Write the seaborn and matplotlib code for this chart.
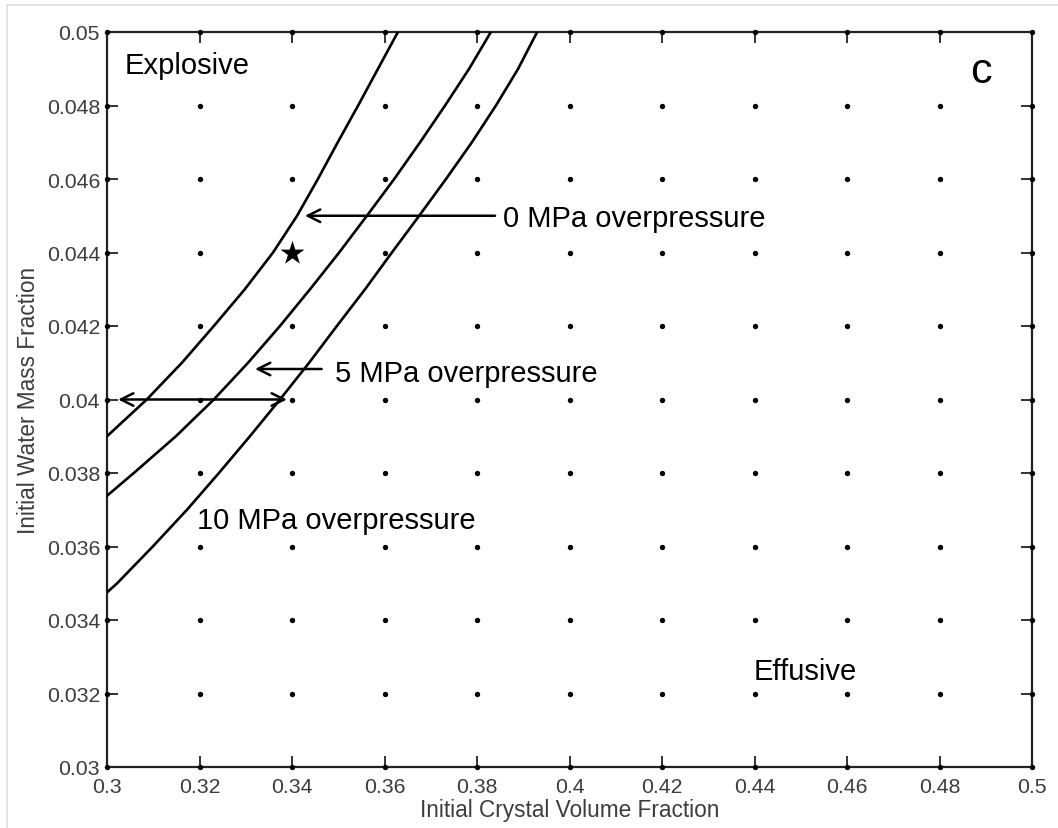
import itertools
import numpy as np
import pandas as pd
import matplotlib
matplotlib.use("Agg")
import matplotlib.pyplot as plt
import seaborn as sns
from matplotlib.lines import Line2D

# ---------------- data ----------------
x_ticks = [0.30, 0.32, 0.34, 0.36, 0.38, 0.40, 0.42, 0.44, 0.46, 0.48, 0.50]
x_ticklabels = ["0.3", "0.32", "0.34", "0.36", "0.38", "0.4", "0.42", "0.44", "0.46", "0.48", "0.5"]
y_ticks = [0.030, 0.032, 0.034, 0.036, 0.038, 0.040, 0.042, 0.044, 0.046, 0.048, 0.050]
y_ticklabels = ["0.03", "0.032", "0.034", "0.036", "0.038", "0.04", "0.042", "0.044", "0.046", "0.048", "0.05"]

# boundary curves (x = crystal fraction, y = water fraction)
curve0_x = [0.3000, 0.3086, 0.3162, 0.3231, 0.3298, 0.3359, 0.3411, 0.3456, 0.3499, 0.3543, 0.3586, 0.3629]
curve0_y = [0.0390, 0.0400, 0.0410, 0.0420, 0.0430, 0.0440, 0.0450, 0.0460, 0.0470, 0.0480, 0.0490, 0.0500]

curve5_x = [0.3000, 0.3058, 0.3149, 0.3231, 0.3305, 0.3374, 0.3439, 0.3502, 0.3562, 0.3621, 0.3677, 0.3731, 0.3783, 0.3830]
curve5_y = [0.03738, 0.0380, 0.0390, 0.0400, 0.0410, 0.0420, 0.0430, 0.0440, 0.0450, 0.0460, 0.0470, 0.0480, 0.0490, 0.0500]

curve10_x = [0.3000, 0.3022, 0.3099, 0.3173, 0.3242, 0.3309, 0.3374, 0.3437, 0.3497, 0.3558, 0.3616, 0.3675, 0.3733, 0.3789, 0.3841, 0.3889, 0.3930]
curve10_y = [0.03475, 0.0350, 0.0360, 0.0370, 0.0380, 0.0390, 0.0400, 0.0410, 0.0420, 0.0430, 0.0440, 0.0450, 0.0460, 0.0470, 0.0480, 0.0490, 0.0500]

star_x = [0.34]
star_y = [0.044]

# ---------------- style ----------------
sns.set_style("ticks")
plt.rcParams["font.family"] = ["Liberation Sans", "DejaVu Sans"]

W, H = 1058, 829
fig = plt.figure(figsize=(W / 100, H / 100), dpi=100)
ax = fig.add_axes([107 / W, 1 - 768 / H, (1032 - 107) / W, (768 - 33) / H])

# simulation grid points
grid = pd.DataFrame(list(itertools.product(x_ticks, y_ticks)), columns=["crystal", "water"])
sns.scatterplot(data=grid, x="crystal", y="water", ax=ax, color="black", s=15,
                linewidth=0, clip_on=False, zorder=5, legend=False)

# boundary curves
for cx, cy in [(curve0_x, curve0_y), (curve5_x, curve5_y), (curve10_x, curve10_y)]:
    sns.lineplot(x=cx, y=cy, ax=ax, color="black", linewidth=1.9,
                 estimator=None, sort=False, zorder=4)

# star
sns.scatterplot(x=star_x, y=star_y, ax=ax, marker="*", s=330, color="black",
                linewidth=0, zorder=6, legend=False)

ax.set_xlim(0.3, 0.5)
ax.set_ylim(0.03, 0.05)
ax.set_xticks(x_ticks)
ax.set_xticklabels(x_ticklabels)
ax.set_yticks(y_ticks)
ax.set_yticklabels(y_ticklabels)
ax.tick_params(direction="in", length=8, width=1.3, top=True, right=True,
               labelsize=15.3, labelcolor="#3d3d3d", color="#222222")
ax.tick_params(axis="x", pad=7)
ax.tick_params(axis="y", pad=5)
for sp in ax.spines.values():
    sp.set_visible(True)
    sp.set_linewidth(1.6)
    sp.set_color("#222222")

ax.set_xlabel("Initial Crystal Volume Fraction", fontsize=16.3, color="#3d3d3d", labelpad=2)
ax.set_ylabel("Initial Water Mass Fraction", fontsize=16.3, color="#3d3d3d", labelpad=5)

# annotations
txt_kw = dict(fontsize=21, color="black", va="baseline", ha="left")
ax.text(0.3039, 0.04888, "Explosive", **txt_kw)
ax.text(0.4399, 0.03239, "Effusive", **txt_kw)
ax.text(0.3856, 0.04472, "0 MPa overpressure", **txt_kw)
ax.text(0.3493, 0.04051, "5 MPa overpressure", **txt_kw)
ax.text(0.3194, 0.03650, "10 MPa overpressure", **txt_kw)
ax.text(0.4866, 0.04865, "c", fontsize=31, color="black", va="baseline", ha="left")

arrow_style = "->, head_length=0.9, head_width=0.45"
ap = dict(arrowstyle=arrow_style, lw=1.8, color="black", shrinkA=0, shrinkB=0)
ax.annotate("", xy=(0.3428, 0.0450), xytext=(0.3839, 0.0450), arrowprops=ap)
ax.annotate("", xy=(0.3320, 0.04083), xytext=(0.3464, 0.04083), arrowprops=ap)
ap2 = dict(arrowstyle="<->, head_length=0.9, head_width=0.45", lw=1.8, color="black",
           shrinkA=0, shrinkB=0)
ax.annotate("", xy=(0.3389, 0.0400), xytext=(0.3024, 0.0400), arrowprops=ap2)

# light frame of the original picture
fig.add_artist(Line2D([7 / W, 7 / W], [0, 1 - 6 / H], transform=fig.transFigure,
                      color="#dedede", lw=1.2))
fig.add_artist(Line2D([7 / W, 1], [1 - 6 / H, 1 - 6 / H], transform=fig.transFigure,
                      color="#dedede", lw=1.2))

fig.savefig("out.png", dpi=100, facecolor="white")
